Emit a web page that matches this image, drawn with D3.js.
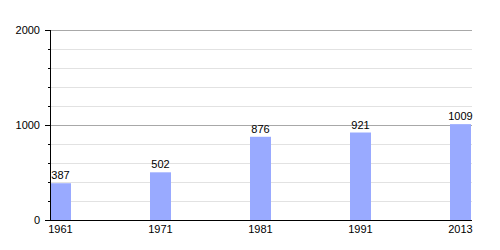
<!DOCTYPE html>
<html>
<head>
<meta charset="utf-8">
<script src="https://cdn.jsdelivr.net/npm/d3@7"></script>
<style>
  body { margin: 0; background: #fff; }
  text { font-family: "Liberation Sans", Arial, sans-serif; font-size: 11px; fill: #000; }
</style>
</head>
<body>
<div id="chart"></div>
<script>
let years = ['1961', '1971', '1981', '1991', '2013'];
let population = [387, 502, 876, 921, 1009];
let majorTicks = [0, 1000, 2000];
let minorTicks = [200, 400, 600, 800, 1200, 1400, 1600, 1800];

let width = 500, height = 250;
let plotLeft = 50, plotRight = 472, plotTop = 30, plotBottom = 220;
let barWidth = 21;

let svg = d3.select('#chart')
    .append('svg')
    .attr('width', width)
    .attr('height', height);

let y = d3.scaleLinear()
    .domain([0, 2000])
    .range([plotBottom, plotTop]);

let x = d3.scalePoint()
    .domain(years)
    .range([plotLeft, plotLeft + 400]);

// minor grid
svg.append('g')
    .selectAll('line')
    .data(minorTicks)
    .enter().append('line')
    .attr('x1', plotLeft).attr('x2', plotRight)
    .attr('y1', d => Math.round(y(d)) + 0.5)
    .attr('y2', d => Math.round(y(d)) + 0.5)
    .style('stroke', '#e2e2e2');

// major grid
svg.append('g')
    .selectAll('line')
    .data(majorTicks.filter(d => d > 0))
    .enter().append('line')
    .attr('x1', plotLeft).attr('x2', plotRight)
    .attr('y1', d => Math.round(y(d)) + 0.5)
    .attr('y2', d => Math.round(y(d)) + 0.5)
    .style('stroke', '#a8a8a8');

// bars
svg.append('g')
    .selectAll('rect')
    .data(population)
    .enter().append('rect')
    .attr('x', (d, i) => x(years[i]))
    .attr('y', d => y(d))
    .attr('width', barWidth)
    .attr('height', d => plotBottom - y(d))
    .style('fill', '#99aaff');

// value labels
svg.append('g')
    .selectAll('text')
    .data(population)
    .enter().append('text')
    .attr('x', (d, i) => x(years[i]) + barWidth / 2)
    .attr('y', d => y(d) - 4)
    .attr('text-anchor', 'middle')
    .text(d => d);

// y axis
let yAxis = svg.append('g');
yAxis.append('line')
    .attr('x1', plotLeft + 0.5).attr('x2', plotLeft + 0.5)
    .attr('y1', plotTop).attr('y2', plotBottom)
    .style('stroke', '#000');
yAxis.selectAll('.minor')
    .data(minorTicks)
    .enter().append('line')
    .attr('x1', plotLeft - 2).attr('x2', plotLeft)
    .attr('y1', d => Math.round(y(d)) + 0.5)
    .attr('y2', d => Math.round(y(d)) + 0.5)
    .style('stroke', '#000');
yAxis.selectAll('.major')
    .data(majorTicks)
    .enter().append('line')
    .attr('x1', plotLeft - 5).attr('x2', plotLeft)
    .attr('y1', d => Math.round(y(d)) + 0.5)
    .attr('y2', d => Math.round(y(d)) + 0.5)
    .style('stroke', '#000');
yAxis.selectAll('text')
    .data(majorTicks)
    .enter().append('text')
    .attr('x', plotLeft - 10)
    .attr('y', d => y(d) + 4)
    .attr('text-anchor', 'end')
    .text(d => d);

// x axis
svg.append('line')
    .attr('x1', plotLeft).attr('x2', plotRight)
    .attr('y1', plotBottom + 0.5).attr('y2', plotBottom + 0.5)
    .style('stroke', '#000');
svg.append('g')
    .selectAll('text')
    .data(years)
    .enter().append('text')
    .attr('x', d => x(d) + barWidth / 2)
    .attr('y', plotBottom + 13)
    .attr('text-anchor', 'middle')
    .text(d => d);
</script>
</body>
</html>
